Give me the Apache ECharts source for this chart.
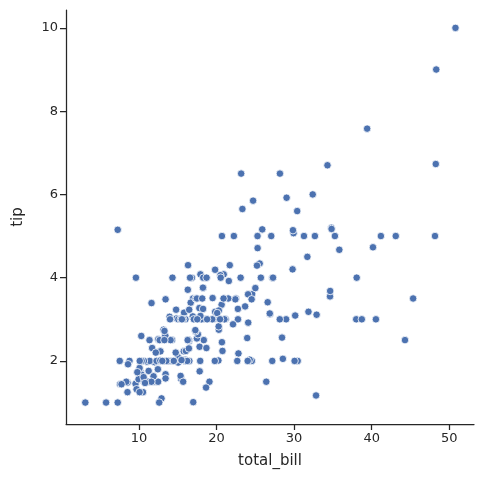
<!DOCTYPE html><html><head><meta charset="utf-8"><script src="https://cdn.jsdelivr.net/npm/echarts@6/dist/echarts.min.js"></script></head><body style="margin:0"><div id="c" style="width:484px;height:484px"></div><script>
const totalBill=[16.99,10.34,21.01,23.68,24.59,25.29,8.77,26.88,15.04,14.78,10.27,35.26,15.42,18.43,14.83,21.58,10.33,16.29,16.97,20.65,17.92,20.29,15.77,39.42,19.82,17.81,13.37,12.69,21.7,19.65,9.55,18.35,15.06,20.69,17.78,24.06,16.31,16.93,18.69,31.27,16.04,17.46,13.94,9.68,30.4,18.29,22.23,32.4,28.55,18.04,12.54,10.29,34.81,9.94,25.56,19.49,38.01,26.41,11.24,48.27,20.29,13.81,11.02,18.29,17.59,20.08,16.45,3.07,20.23,15.01,12.02,17.07,26.86,25.28,14.73,10.51,17.92,27.2,22.76,17.29,19.44,16.66,10.07,32.68,15.98,34.83,13.03,18.28,24.71,21.16,28.97,22.49,5.75,16.32,22.75,40.17,27.28,12.03,21.01,12.46,11.35,15.38,44.3,22.42,20.92,15.36,20.49,25.21,18.24,14.31,14.0,7.25,38.07,23.95,25.71,17.31,29.93,10.65,12.43,24.08,11.69,13.42,14.26,15.95,12.48,29.8,8.52,14.52,11.38,22.82,19.08,20.27,11.17,12.26,18.26,8.51,10.33,14.15,16.0,13.16,17.47,34.3,41.19,27.05,16.43,8.35,18.64,11.87,9.78,7.51,14.07,13.13,17.26,24.55,19.77,29.85,48.17,25.0,13.39,16.49,21.5,12.66,16.21,13.81,17.51,24.52,20.76,31.71,10.59,10.63,50.81,15.81,7.25,31.85,16.82,32.9,17.89,14.48,9.6,34.63,34.65,23.33,45.35,23.17,40.55,20.69,20.9,30.46,18.15,23.1,15.69,19.81,28.44,15.48,16.58,7.56,10.34,43.11,13.0,13.51,18.71,12.74,13.0,16.4,20.53,16.47,26.59,38.73,24.27,12.76,30.06,25.89,48.33,13.27,28.17,12.9,28.15,11.59,7.74,30.14,12.16,13.42,8.58,15.98,13.42,16.27,10.09,20.45,13.28,22.12,24.01,15.69,11.61,10.77,15.53,10.07,12.6,32.83,35.83,29.03,27.18,22.67,17.82,18.78];
const tip=[1.01,1.66,3.5,3.31,3.61,4.71,2.0,3.12,1.96,3.23,1.71,5.0,1.57,3.0,3.02,3.92,1.67,3.71,3.5,3.35,4.08,2.75,2.23,7.58,3.18,2.34,2.0,2.0,4.3,3.0,1.45,2.5,3.0,2.45,3.27,3.6,2.0,3.07,2.31,5.0,2.24,2.54,3.06,1.32,5.6,3.0,5.0,6.0,2.05,3.0,2.5,2.6,5.2,1.56,4.34,3.51,3.0,1.5,1.76,6.73,3.21,2.0,1.98,3.76,2.64,3.15,2.47,1.0,2.01,2.09,1.97,3.0,3.14,5.0,2.2,1.25,3.08,4.0,3.0,2.71,3.0,3.4,1.83,5.0,2.03,5.17,2.0,4.0,5.85,3.0,3.0,3.5,1.0,4.3,3.25,4.73,4.0,1.5,3.0,1.5,2.5,3.0,2.5,3.48,4.08,1.64,4.06,4.29,3.76,4.0,3.0,1.0,4.0,2.55,4.0,3.5,5.07,1.5,1.8,2.92,2.31,1.68,2.5,2.0,2.52,4.2,1.48,2.0,2.0,2.18,1.5,2.83,1.5,2.0,3.25,1.25,2.0,2.0,2.0,2.75,3.5,6.7,5.0,5.0,2.3,1.5,1.36,1.63,1.73,2.0,2.5,2.0,2.74,2.0,2.0,5.14,5.0,3.75,2.61,2.0,3.5,2.5,2.0,2.0,3.0,3.48,2.24,4.5,1.61,2.0,10.0,3.16,5.15,3.18,4.0,3.11,2.0,2.0,4.0,3.55,3.68,5.65,3.5,6.5,3.0,5.0,3.5,2.0,3.5,4.0,1.5,4.19,2.56,2.02,4.0,1.44,2.0,5.0,2.0,2.0,4.0,2.01,2.0,2.5,4.0,3.23,3.41,3.0,2.03,2.23,2.0,5.16,9.0,2.5,6.5,1.1,3.0,1.5,1.44,3.09,2.2,3.48,1.92,3.0,1.58,2.5,2.0,3.0,2.72,2.88,2.0,3.0,3.39,1.47,3.0,1.25,1.0,1.17,4.67,5.92,2.0,2.0,1.75,3.0];
const xTicks=[10,20,30,40,50], yTicks=[2,4,6,8,10];
const txt='#262626', f='DejaVu Sans';
const ax=(name,gap)=>({name,nameLocation:'middle',nameGap:gap,nameTextStyle:{color:txt,fontSize:15,fontFamily:f},
 axisLine:{show:true,lineStyle:{color:txt,width:1.25}},axisTick:{show:true,length:6,lineStyle:{color:txt,width:1.25}},
 axisLabel:{color:txt,fontSize:13,fontFamily:f,margin:8},splitLine:{show:false}});
echarts.init(document.getElementById('c')).setOption({animation:false,
 grid:{left:66,right:10,top:10,bottom:60},
 xAxis:Object.assign(ax('total_bill',30),{type:'value',min:0.58,max:53.2,interval:10,axisLabel:{color:txt,fontSize:13,fontFamily:f,margin:8,customValues:xTicks},axisTick:{show:true,length:6,lineStyle:{color:txt,width:1.25},customValues:xTicks}}),
 yAxis:Object.assign(ax('tip',40),{type:'value',min:0.485,max:10.43,axisLabel:{color:txt,fontSize:13,fontFamily:f,margin:8,customValues:yTicks},axisTick:{show:true,length:6,lineStyle:{color:txt,width:1.25},customValues:yTicks}}),
 series:[{type:'scatter',symbolSize:7.5,data:totalBill.map((v,i)=>[v,tip[i]]),itemStyle:{color:'#4c72b0',borderColor:'#fff',borderWidth:0.8,opacity:1}}]});
</script></body></html>
